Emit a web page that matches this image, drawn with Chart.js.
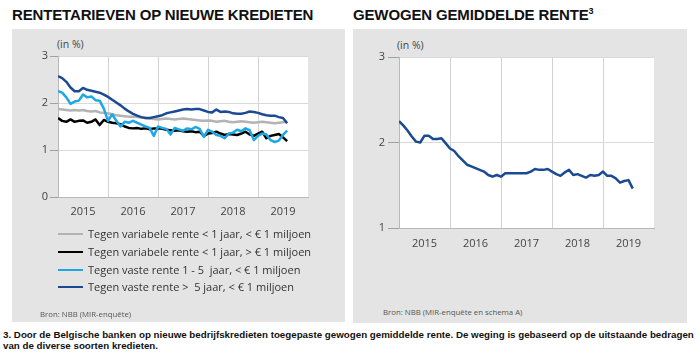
<!DOCTYPE html>
<html>
<head>
<meta charset="utf-8">
<script src="https://cdn.jsdelivr.net/npm/chart.js@4.4.1/dist/chart.umd.min.js"></script>
<style>
  html, body { margin:0; padding:0; background:#fff; }
  body { width:700px; height:354px; position:relative; overflow:hidden; font-family:"Liberation Sans", Arial, sans-serif; }
  .abs { position:absolute; white-space:pre; }
  .panel { position:absolute; background:#e4e4e4; }
  .title { font-weight:bold; font-size:15px; color:#111; letter-spacing:-0.15px; }
  .unit { font-family:"Open Sans", sans-serif; font-size:10.5px; color:#444; }
  .src { font-family:"Open Sans", sans-serif; font-size:7.8px; color:#555; }
  .leg { font-family:"Open Sans", sans-serif; font-size:11px; color:#333; }
  .legline { position:absolute; height:2px; width:25px; }
  .foot { font-weight:bold; font-size:9.75px; color:#111; }
  canvas { position:absolute; }
</style>
</head>
<body>
<div class="panel" style="left:12px;top:29px;width:333px;height:293px;"></div>
<div class="panel" style="left:353px;top:29px;width:334px;height:294px;"></div>

<div class="abs title" style="left:12px;top:6px;">RENTETARIEVEN OP NIEUWE KREDIETEN</div>
<div class="abs title" style="left:353px;top:6px;">GEWOGEN GEMIDDELDE RENTE<sup style="font-size:9px;vertical-align:6px;line-height:0;">3</sup></div>

<div class="abs unit" style="left:57px;top:37px;">(in %)</div>
<div class="abs unit" style="left:397px;top:38px;">(in %)</div>

<canvas id="c1" width="350" height="240" style="left:0;top:0;"></canvas>
<canvas id="c2" width="350" height="260" style="left:350px;top:0;"></canvas>

<div id="legend"></div>

<div class="abs src" style="left:40px;top:309px;">Bron: NBB (MIR-enquête)</div>
<div class="abs src" style="left:383px;top:307px;">Bron: NBB (MIR-enquête en schema A)</div>

<div class="abs foot" style="left:3px;top:329px;">3. Door de Belgische banken op nieuwe bedrijfskredieten toegepaste gewogen gemiddelde rente. De weging is gebaseerd op de uitstaande bedragen</div>
<div class="abs foot" style="left:3px;top:340px;">van de diverse soorten kredieten.</div>

<script>
// ---- Data (monthly, January 2015 – August 2019) ----
const startYear = 2015;
const yearLabels = ['2015', '2016', '2017', '2018', '2019'];

const seriesNames = [
  'Tegen variabele rente < 1 jaar, < € 1 miljoen',
  'Tegen variabele rente < 1 jaar, > € 1 miljoen',
  'Tegen vaste rente 1 - 5  jaar, < € 1 miljoen',
  'Tegen vaste rente >  5 jaar, < € 1 miljoen'
];

const varSmall = [1.87,1.86,1.85,1.84,1.85,1.84,1.85,1.83,1.82,1.83,1.80,1.79,
                  1.78,1.76,1.74,1.73,1.72,1.71,1.71,1.70,1.69,1.68,1.67,1.66,
                  1.65,1.66,1.67,1.66,1.65,1.66,1.67,1.66,1.65,1.64,1.63,1.62,
                  1.63,1.62,1.60,1.61,1.62,1.60,1.59,1.60,1.61,1.60,1.59,1.58,
                  1.59,1.60,1.59,1.58,1.57,1.58,1.59,1.60];

const varLarge = [1.68,1.62,1.60,1.65,1.60,1.62,1.63,1.58,1.60,1.65,1.53,1.64,
                  1.60,1.58,1.57,1.55,1.50,1.47,1.46,1.47,1.45,1.46,1.44,1.46,
                  1.46,1.45,1.43,1.42,1.41,1.42,1.40,1.39,1.40,1.38,1.39,1.30,
                  1.35,1.36,1.39,1.35,1.32,1.34,1.33,1.32,1.35,1.39,1.33,1.30,
                  1.35,1.39,1.25,1.30,1.32,1.34,1.27,1.19];

const fixed1to5 = [2.25,2.22,2.12,1.98,2.03,2.05,2.18,2.12,2.14,2.06,2.05,1.88,
                   1.62,1.76,1.62,1.50,1.60,1.58,1.62,1.58,1.54,1.50,1.47,1.30,
                   1.50,1.47,1.45,1.33,1.47,1.44,1.41,1.46,1.44,1.49,1.45,1.28,
                   1.43,1.39,1.32,1.30,1.25,1.35,1.37,1.43,1.40,1.46,1.42,1.21,
                   1.30,1.35,1.33,1.21,1.17,1.20,1.32,1.41];

const fixedOver5 = [2.57,2.53,2.45,2.33,2.25,2.25,2.32,2.28,2.26,2.24,2.22,2.18,
                    2.13,2.07,2.01,1.95,1.88,1.82,1.77,1.73,1.70,1.68,1.68,1.70,
                    1.72,1.74,1.78,1.80,1.82,1.84,1.86,1.87,1.86,1.87,1.87,1.84,
                    1.81,1.80,1.86,1.81,1.82,1.81,1.78,1.77,1.77,1.79,1.82,1.81,
                    1.79,1.76,1.74,1.73,1.73,1.70,1.68,1.57];

const weightedAvg = [2.25,2.20,2.14,2.07,2.01,2.00,2.08,2.08,2.04,2.04,2.05,1.99,
                     1.93,1.90,1.84,1.79,1.74,1.72,1.70,1.68,1.66,1.62,1.60,1.62,
                     1.60,1.64,1.64,1.64,1.64,1.64,1.64,1.66,1.69,1.68,1.68,1.69,
                     1.66,1.63,1.61,1.65,1.68,1.62,1.63,1.61,1.59,1.62,1.61,1.62,
                     1.66,1.61,1.61,1.58,1.53,1.55,1.56,1.46];

const colors = ['#b3b3b3', '#000000', '#1ea7e4', '#1b4a93'];

// month index -> decimal year position
function toPoints(arr) {
  return arr.map((v, i) => ({ x: startYear + i / 12, y: v }));
}

const tickFont = { family: 'Open Sans', size: 11 };
const tickColor = '#444';

function xScale(height, pad) {
  return {
    type: 'linear',
    min: 2015, max: 2020,
    afterBuildTicks: (s) => {
      const t = [];
      for (let y = 2015; y <= 2020; y++) { t.push({ value: y }); if (y < 2020) t.push({ value: y + 0.5 }); }
      s.ticks = t;
    },
    afterFit: (s) => { s.height = height; },
    ticks: {
      autoSkip: false, maxRotation: 0, padding: pad, font: tickFont, color: tickColor,
      callback: (v) => Number.isInteger(v) ? '' : yearLabels[Math.floor(v) - 2015]
    },
    grid: {
      drawTicks: false,
      color: (ctx) => (ctx.tick && Number.isInteger(ctx.tick.value) && ctx.tick.value < 2020) ? '#d2d2d2' : 'rgba(0,0,0,0)',
      lineWidth: 1
    },
    border: { color: '#b8b8b8', width: 1 }
  };
}

function yScale(min, max, width, tickLen, pad) {
  return {
    min: min, max: max,
    afterFit: (s) => { s.width = width; },
    ticks: { stepSize: 1, padding: pad, font: tickFont, color: tickColor },
    grid: { color: '#d9d9d9', tickLength: tickLen, tickColor: '#a0a0a0' },
    border: { color: '#b8b8b8', width: 1 }
  };
}

const commonOpts = {
  responsive: false, animation: false, devicePixelRatio: 1,
  plugins: { legend: { display: false }, tooltip: { enabled: false } },
  elements: { point: { radius: 0 }, line: { tension: 0, borderWidth: 2.5, borderJoinStyle: 'round' } }
};

const bgPlugin = {
  id: 'plotBg',
  beforeDraw(chart) {
    const a = chart.chartArea, c = chart.ctx;
    c.save(); c.fillStyle = '#ffffff'; c.fillRect(a.left, a.top, a.right - a.left, a.bottom - a.top); c.restore();
  }
};

const leftSeries = [varSmall, varLarge, fixed1to5, fixedOver5];

new Chart(document.getElementById('c1'), {
  type: 'line',
  data: {
    datasets: leftSeries.map((arr, i) => ({
      label: seriesNames[i], data: toPoints(arr), borderColor: colors[i], backgroundColor: colors[i],
      order: 4 - i
    }))
  },
  options: Object.assign({}, commonOpts, {
    layout: { padding: { left: 0, right: 42, top: 56, bottom: 0 } },
    scales: { x: xScale(43, 8), y: yScale(0, 3, 58, 8, 2) }
  }),
  plugins: [bgPlugin]
});

new Chart(document.getElementById('c2'), {
  type: 'line',
  data: {
    datasets: [{ label: 'Gewogen gemiddelde rente', data: toPoints(weightedAvg), borderColor: colors[3], backgroundColor: colors[3] }]
  },
  options: Object.assign({}, commonOpts, {
    layout: { padding: { left: 0, right: 46, top: 57, bottom: 0 } },
    scales: { x: xScale(32, 9), y: yScale(1, 3, 49, 11, 3) }
  }),
  plugins: [bgPlugin]
});

// HTML legend built from the series names/colours
const legendTops = [234, 252, 270, 287];
const legend = document.getElementById('legend');
seriesNames.forEach((name, i) => {
  const line = document.createElement('div');
  line.className = 'legline';
  line.style.left = '58px'; line.style.top = (legendTops[i] - 1) + 'px'; line.style.background = colors[i];
  legend.appendChild(line);
  const t = document.createElement('div');
  t.className = 'abs leg';
  t.style.left = '88px'; t.style.top = (legendTops[i] - 8) + 'px';
  t.textContent = name;
  legend.appendChild(t);
});
</script>
</body>
</html>
